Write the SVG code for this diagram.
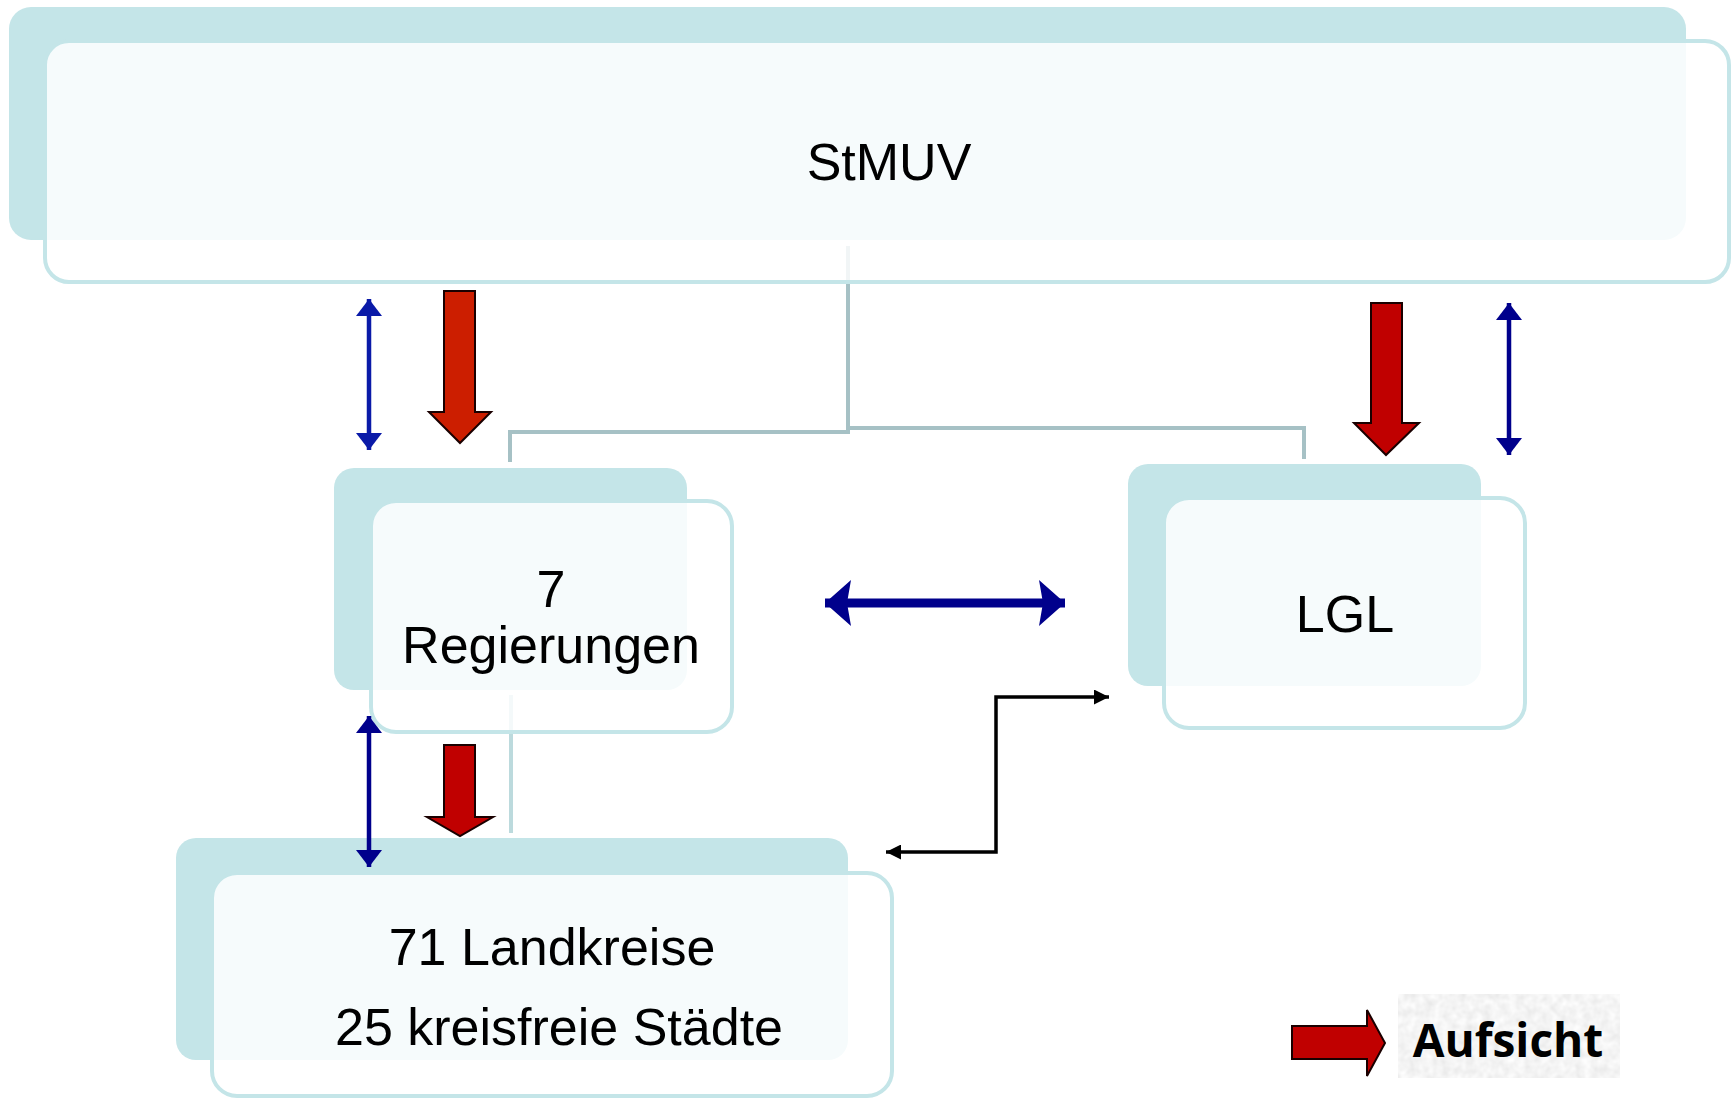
<svg xmlns="http://www.w3.org/2000/svg" width="1736" height="1100" viewBox="0 0 1736 1100">
<style>
.back{fill:#c4e5e8;}
.front{fill:#ffffff;fill-opacity:0.84;stroke:#c4e5e8;stroke-width:4;}
.lbl{font-family:"Liberation Sans",Arial,sans-serif;font-size:52px;fill:#000;text-anchor:middle;}
.tree{fill:none;stroke:#a6c1c5;stroke-width:4;}
.tree2{fill:none;stroke:#bcdadd;stroke-width:4;}
.blue{stroke:#0a1aa8;stroke-width:4.5;fill:none;}
.navy{stroke:#00008c;stroke-width:4.5;fill:none;}
.red{fill:#c00000;stroke:#1a0000;stroke-width:2;}
.redo{fill:#cc1e00;stroke:#1a0000;stroke-width:2;}
.blk{stroke:#000;stroke-width:3.5;fill:none;}
</style>
<defs>
<marker id="hBlue" markerUnits="userSpaceOnUse" viewBox="0 0 17 26" refX="17" refY="13" markerWidth="17" markerHeight="26" orient="auto-start-reverse"><path d="M0,0 L17,13 L0,26 Z" fill="#0a1aa8"/></marker>
<marker id="hNavy" markerUnits="userSpaceOnUse" viewBox="0 0 17 26" refX="17" refY="13" markerWidth="17" markerHeight="26" orient="auto-start-reverse"><path d="M0,0 L17,13 L0,26 Z" fill="#00008c"/></marker>
<marker id="hBig" markerUnits="userSpaceOnUse" viewBox="0 0 26 46" refX="26" refY="23" markerWidth="26" markerHeight="46" orient="auto-start-reverse"><path d="M0,0 L26,23 L0,46 L4,23 Z" fill="#00008c"/></marker>
<marker id="hBlk" markerUnits="userSpaceOnUse" viewBox="0 0 15 15" refX="15" refY="7.5" markerWidth="15" markerHeight="15" orient="auto-start-reverse"><path d="M0,0 L15,7.5 L0,15 Z" fill="#000"/></marker>
<filter id="grain" x="0" y="0" width="100%" height="100%">
<feTurbulence type="fractalNoise" baseFrequency="0.12" numOctaves="2" seed="4"/>
<feColorMatrix type="matrix" values="0.25 0 0 0 0.78  0.25 0 0 0 0.78  0.25 0 0 0 0.78  0 0 0 0 1"/>
</filter>
</defs>
<rect width="1736" height="1100" fill="#ffffff"/>

<g id="tree-lines">
<path class="tree" d="M848,246 V432 H510 V462"/>
<path class="tree" d="M848,428 H1304 V459"/>
<path class="tree2" d="M511,695 V833"/>
</g>

<g id="node-stmuv">
<rect class="back" x="9" y="7" width="1677" height="233" rx="22"/>
<rect class="front" x="45" y="41" width="1684" height="241" rx="24"/>
<text class="lbl" x="889" y="180">StMUV</text>
</g>

<g id="node-regierungen">
<rect class="back" x="334" y="468" width="353" height="222" rx="20"/>
<rect class="front" x="371" y="501" width="361" height="231" rx="25"/>
<text class="lbl" x="551" y="607">7</text>
<text class="lbl" x="551" y="663">Regierungen</text>
</g>

<g id="node-lgl">
<rect class="back" x="1128" y="464" width="353" height="222" rx="20"/>
<rect class="front" x="1164" y="498" width="361" height="230" rx="25"/>
<text class="lbl" x="1345" y="632">LGL</text>
</g>

<g id="node-landkreise">
<rect class="back" x="176" y="838" width="672" height="222" rx="20"/>
<rect class="front" x="212" y="873" width="680" height="223" rx="25"/>
<text class="lbl" x="552" y="965">71 Landkreise</text>
<text class="lbl" x="559" y="1045">25 kreisfreie Städte</text>
</g>

<g id="connectors">
<line class="blue" x1="369" y1="299" x2="369" y2="450" marker-start="url(#hBlue)" marker-end="url(#hBlue)"/>
<polygon class="redo" points="444,291 475,291 475,412 491,412 460,443 429,412 444,412"/>
<line class="navy" x1="1509" y1="303" x2="1509" y2="455" marker-start="url(#hNavy)" marker-end="url(#hNavy)"/>
<polygon class="red" points="1371,303 1402,303 1402,423 1419,423 1386,455 1354,423 1371,423"/>
<line x1="825" y1="603" x2="1065" y2="603" stroke="#00008c" stroke-width="9" marker-start="url(#hBig)" marker-end="url(#hBig)"/>
<line class="navy" x1="369" y1="716" x2="369" y2="867" marker-start="url(#hNavy)" marker-end="url(#hNavy)"/>
<polygon class="red" points="444,745 475,745 475,817 493,817 460,836 427,817 444,817"/>
<polyline class="blk" points="886,852 996,852 996,697 1109,697" marker-start="url(#hBlk)" marker-end="url(#hBlk)"/>
</g>

<g id="legend">
<polygon class="red" points="1292,1026 1367,1026 1367,1010 1385,1043 1367,1076 1367,1059 1292,1059"/>
<rect x="1398" y="994" width="222" height="84" fill="#e8e8e8" filter="url(#grain)"/>
<text x="1508" y="1057" font-family="'Open Sans','Liberation Sans',sans-serif" font-weight="bold" font-size="46" text-anchor="middle" fill="#000">Aufsicht</text>
</g>
</svg>
